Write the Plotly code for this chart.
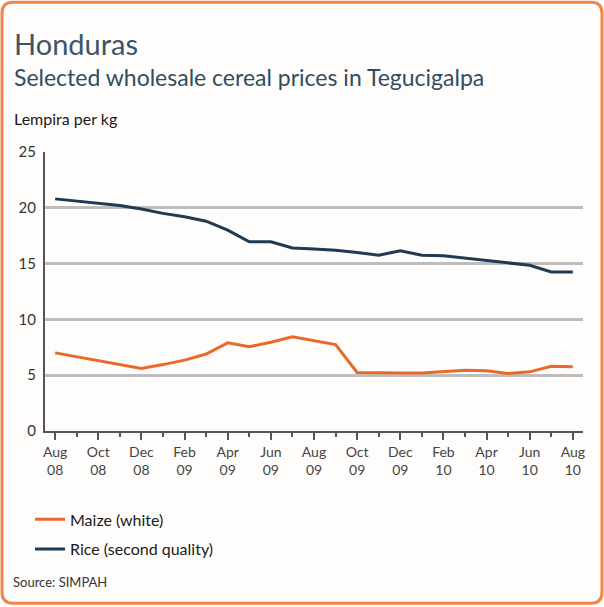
import plotly.graph_objects as go

# Monthly wholesale prices, Aug 2008 - Aug 2010 (Lempira per kg)
months = ["Aug 08", "Sep 08", "Oct 08", "Nov 08", "Dec 08", "Jan 09", "Feb 09",
          "Mar 09", "Apr 09", "May 09", "Jun 09", "Jul 09", "Aug 09", "Sep 09",
          "Oct 09", "Nov 09", "Dec 09", "Jan 10", "Feb 10", "Mar 10", "Apr 10",
          "May 10", "Jun 10", "Jul 10", "Aug 10"]
maize_white = [7.0, 6.65, 6.3, 5.95, 5.6, 5.95, 6.35, 6.9, 7.9, 7.55, 7.95, 8.45,
               8.1, 7.75, 5.25, 5.2, 5.2, 5.2, 5.35, 5.45, 5.4, 5.15, 5.3, 5.8, 5.75]
rice_second = [20.8, 20.6, 20.4, 20.2, 19.9, 19.5, 19.2, 18.8, 18.0, 16.95, 16.95,
               16.4, 16.3, 16.2, 16.0, 15.75, 16.15, 15.75, 15.7, 15.5, 15.25, 15.05,
               14.85, 14.25, 14.25]
tick_labels = ["Aug<br>08", "Oct<br>08", "Dec<br>08", "Feb<br>09", "Apr<br>09",
               "Jun<br>09", "Aug<br>09", "Oct<br>09", "Dec<br>09", "Feb<br>10",
               "Apr<br>10", "Jun<br>10", "Aug<br>10"]
y_ticks = [0, 5, 10, 15, 20, 25]

W, H = 604, 607
L, R, T, B = 45, 21, 152, 175.5
PW, PH = W - L - R, H - T - B

FONT = "Lato"
ORANGE = "#e8692a"
NAVY = "#1f3a52"


def px(x):
    return (x - L) / PW


def py(y):
    return (H - B - y) / PH


x_idx = list(range(len(months)))

fig = go.Figure()
fig.add_trace(go.Scatter(x=x_idx, y=maize_white, mode="lines", name="Maize (white)",
                         line=dict(color=ORANGE, width=3), legendgroup="a"))
fig.add_trace(go.Scatter(x=x_idx, y=rice_second, mode="lines", name="Rice (second quality)",
                         line=dict(color=NAVY, width=3), legendgroup="b"))

# rounded orange frame around the whole graphic
x0, y0, x1, y1, r = 2, 2, 602, 604, 11
path = (f"M {px(x0 + r)},{py(y0)} L {px(x1 - r)},{py(y0)} "
        f"Q {px(x1)},{py(y0)} {px(x1)},{py(y0 + r)} "
        f"L {px(x1)},{py(y1 - r)} Q {px(x1)},{py(y1)} {px(x1 - r)},{py(y1)} "
        f"L {px(x0 + r)},{py(y1)} Q {px(x0)},{py(y1)} {px(x0)},{py(y1 - r)} "
        f"L {px(x0)},{py(y0 + r)} Q {px(x0)},{py(y0)} {px(x0 + r)},{py(y0)} Z")
fig.add_shape(type="path", xref="paper", yref="paper", path=path,
              line=dict(color="#f0874a", width=3), fillcolor="#fffdfb", layer="below")

annotations = [
    dict(text="Honduras", x=px(12), y=py(43), font=dict(size=29, color="#3b5668")),
    dict(text="Selected wholesale cereal prices in Tegucigalpa", x=px(12), y=py(77),
         font=dict(size=23, color="#2f4d62")),
    dict(text="Lempira per kg", x=px(12), y=py(118), font=dict(size=16, color="#1a1a1a")),
    dict(text="Source: SIMPAH", x=px(11), y=py(583), font=dict(size=13, color="#333333")),
]
for a in annotations:
    fig.add_annotation(xref="paper", yref="paper", xanchor="left", yanchor="middle",
                       showarrow=False, **a)

fig.update_layout(
    width=W, height=H,
    margin=dict(l=L, r=R, t=T, b=B),
    paper_bgcolor="white",
    plot_bgcolor="rgba(0,0,0,0)",
    font=dict(family=FONT, color="#333333", size=14),
    showlegend=True,
    legend=dict(x=px(30), y=py(503), xanchor="left", yanchor="top",
                font=dict(size=16, color="#1a1a1a"), bgcolor="rgba(0,0,0,0)",
                traceorder="grouped", tracegroupgap=6),
    xaxis=dict(range=[-0.47, 24.47], tickvals=x_idx[::2], ticktext=tick_labels,
               showgrid=False, zeroline=False, showline=True, linecolor="#555555",
               linewidth=2, ticks="outside", ticklen=7, tickwidth=1.5,
               tickcolor="#555555", tickfont=dict(size=14, color="#444444"),
               minor=dict(tickvals=x_idx[1::2], ticks="outside", ticklen=4,
                          tickwidth=1.5, tickcolor="#555555", showgrid=False)),
    yaxis=dict(range=[0, 25], tickvals=y_ticks, showgrid=True, gridcolor="#bdbdbd",
               gridwidth=2.5, zeroline=False, showline=True, linecolor="#555555",
               linewidth=2, ticks="", tickfont=dict(size=15, color="#333333"),
               ticklabelstandoff=4),
)

fig.write_html("out.html")
